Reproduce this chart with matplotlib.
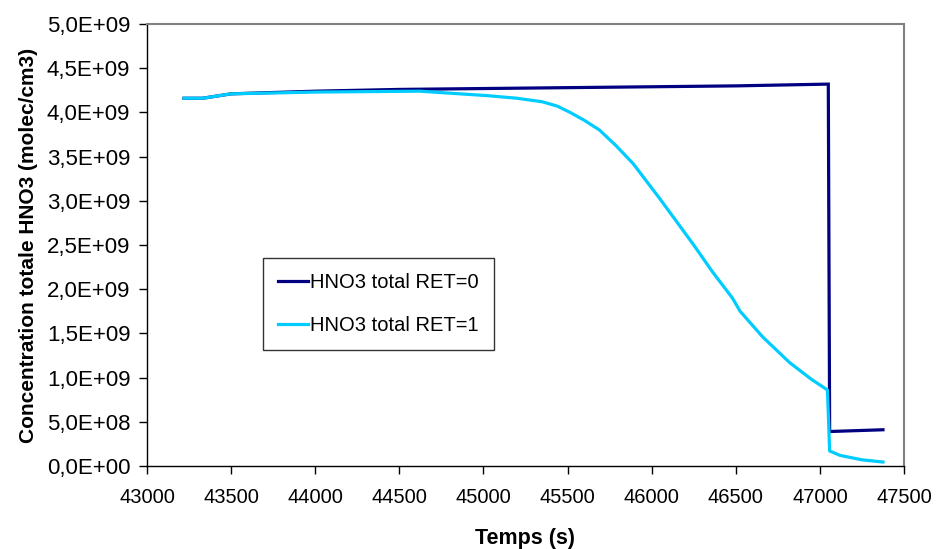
import matplotlib
matplotlib.use("Agg")
import matplotlib.pyplot as plt
from matplotlib.ticker import FuncFormatter, MultipleLocator

plt.rcParams['font.family'] = ['Liberation Sans', 'DejaVu Sans']

# HNO3 total, RET=0 (values in 1E9 molec/cm3)
t_ret0 = [43220, 43330, 43500, 44000, 44500, 45000, 45500, 46000, 46500, 47050, 47058, 47375]
c_ret0 = [4.16, 4.16, 4.21, 4.24, 4.26, 4.27, 4.28, 4.29, 4.30, 4.32, 0.39, 0.41]

# HNO3 total, RET=1
t_ret1 = [43220, 43330, 43500, 44000, 44620, 45020, 45200, 45350, 45440, 45515, 45600,
          45690, 45790, 45890, 45970, 46050, 46150, 46250, 46360, 46480, 46526, 46660,
          46820, 46950, 47045, 47058, 47120, 47250, 47375]
c_ret1 = [4.16, 4.16, 4.21, 4.23, 4.24, 4.19, 4.16, 4.12, 4.07, 4.00, 3.91,
          3.80, 3.62, 3.42, 3.22, 3.02, 2.76, 2.50, 2.20, 1.90, 1.75, 1.46,
          1.17, 0.98, 0.86, 0.17, 0.12, 0.07, 0.045]

fig = plt.figure(figsize=(9.37, 5.49), dpi=100)
ax = fig.add_axes([147 / 937, 83 / 549, 757 / 937, 442 / 549])

ax.plot(t_ret0, [v * 1e9 for v in c_ret0], color='#000080', lw=2.3,
        label='HNO3 total RET=0', solid_joinstyle='miter')
ax.plot(t_ret1, [v * 1e9 for v in c_ret1], color='#00CCFF', lw=2.3,
        label='HNO3 total RET=1')

ax.set_xlim(43000, 47500)
ax.set_ylim(0, 5e9)
ax.xaxis.set_major_locator(MultipleLocator(500))
ax.yaxis.set_major_locator(MultipleLocator(5e8))


def sci_fmt(v, pos):
    s = '%.1E' % v
    return s.replace('.', ',')


ax.yaxis.set_major_formatter(FuncFormatter(sci_fmt))
ax.tick_params(axis='both', direction='out', length=6, width=1,
               colors='black', pad=5)
ax.tick_params(axis='x', labelsize=14.5, pad=10)
ax.tick_params(axis='y', labelsize=16, pad=6)

for side in ['left', 'bottom']:
    ax.spines[side].set_color('black')
    ax.spines[side].set_linewidth(1)
for side in ['top', 'right']:
    ax.spines[side].set_color('#808080')
    ax.spines[side].set_linewidth(1.5)

ax.set_xlabel('Temps (s)', fontsize=15.5, fontweight='bold', labelpad=15)
ax.set_ylabel('Concentration totale HNO3 (molec/cm3)', fontsize=15,
              fontweight='bold', labelpad=6)

leg = ax.legend(loc='upper left', bbox_to_anchor=(0.153, 0.4706),
                frameon=True, fancybox=False, fontsize=14.5, handlelength=1.5,
                handletextpad=0.1, labelspacing=1.2, borderpad=0.75, borderaxespad=0)
leg.get_frame().set_edgecolor('black')
leg.get_frame().set_linewidth(1)

fig.savefig('out.png', dpi=100)
